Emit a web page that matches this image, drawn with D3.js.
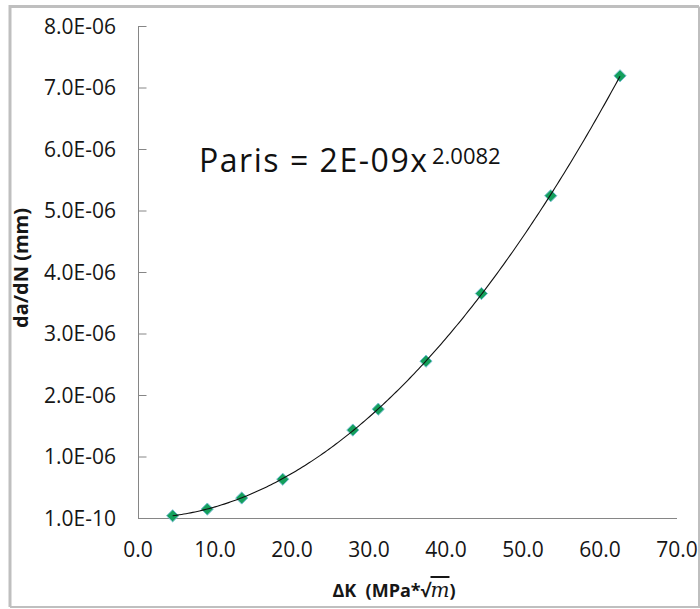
<!DOCTYPE html>
<html>
<head>
<meta charset="utf-8">
<script src="https://cdn.jsdelivr.net/npm/d3@7"></script>
<style>
  html, body { margin: 0; padding: 0; background: #fff; }
  svg { display: block; }
</style>
</head>
<body>
<svg id="chart" width="700" height="609"></svg>
<script>
// Crack growth rate vs stress intensity factor range
const deltaK = [4.5, 9.0, 13.47, 18.8, 27.9, 31.2, 37.4, 44.6, 53.6, 62.6];
const dadN   = [0.036e-6, 0.145e-6, 0.325e-6, 0.63e-6, 1.43e-6, 1.77e-6, 2.55e-6, 3.65e-6, 5.24e-6, 7.19e-6];

const yTickValues = [1e-10, 1e-6, 2e-6, 3e-6, 4e-6, 5e-6, 6e-6, 7e-6, 8e-6];
const yTickLabels = ["1.0E-10", "1.0E-06", "2.0E-06", "3.0E-06", "4.0E-06", "5.0E-06", "6.0E-06", "7.0E-06", "8.0E-06"];
const xTickValues = [0, 10, 20, 30, 40, 50, 60, 70];
const xTickLabels = ["0.0", "10.0", "20.0", "30.0", "40.0", "50.0", "60.0", "70.0"];

// Paris law exponent of the power trendline
const parisExponent = 2.0082;

const svg = d3.select("#chart");

// outer chart frame
svg.append("path")
  .attr("d", "M10,607 L10,6.5 L699,6.5")
  .attr("fill", "none").attr("stroke", "#bfbfbf").attr("stroke-width", 3);
svg.append("path")
  .attr("d", "M10,607 L699,607 L699,6.5")
  .attr("fill", "none").attr("stroke", "#bfbfbf").attr("stroke-width", 2);

const x = d3.scaleLinear().domain([0, 70]).range([138, 677]);
const y = d3.scaleLinear().domain([0, 8e-6]).range([518, 26]);

const axisColor = "#868686";
const labelFont = "'Open Sans', 'DejaVu Sans', sans-serif";
const textColor = "#161616";

// y axis: ticks drawn inward
const yAxis = svg.append("g")
  .attr("transform", "translate(138,0)")
  .call(d3.axisRight(y).tickValues(yTickValues).tickSize(8).tickFormat(""));
yAxis.select(".domain").attr("stroke", axisColor).attr("d", `M0.5,${y(8e-6)}V${y(0)}`);
yAxis.selectAll(".tick line").attr("stroke", axisColor).attr("transform", "translate(0.5,0)");

svg.append("g").selectAll("text")
  .data(yTickValues)
  .join("text")
  .attr("x", 116)
  .attr("y", d => y(d))
  .attr("dy", "0.36em")
  .attr("text-anchor", "end")
  .attr("font-family", labelFont)
  .attr("font-size", 21)
  .attr("font-weight", 500)
  .attr("fill", textColor)
  .text((d, i) => yTickLabels[i]);

// x axis: no tick marks
const xAxis = svg.append("g")
  .attr("transform", "translate(0,518)")
  .call(d3.axisBottom(x).tickValues(xTickValues).tickSize(0).tickFormat(""));
xAxis.select(".domain").attr("stroke", axisColor).attr("d", `M${x(0)},0.5H${x(70)}`);

svg.append("g").selectAll("text")
  .data(xTickValues)
  .join("text")
  .attr("x", d => x(d))
  .attr("y", 557)
  .attr("text-anchor", "middle")
  .attr("font-family", labelFont)
  .attr("font-size", 21)
  .attr("font-weight", 500)
  .attr("fill", textColor)
  .text((d, i) => xTickLabels[i]);

// axis titles
svg.append("text")
  .attr("transform", "translate(28,268) rotate(-90)")
  .attr("text-anchor", "middle")
  .attr("font-family", labelFont)
  .attr("font-weight", "bold")
  .attr("font-size", 20)
  .attr("fill", textColor)
  .text("da/dN (mm)");

const xTitle = svg.append("text")
  .attr("x", 394)
  .attr("y", 597)
  .attr("text-anchor", "middle")
  .attr("font-family", labelFont)
  .attr("font-weight", "bold")
  .attr("font-size", 18)
  .attr("fill", textColor)
  .attr("xml:space", "preserve");
xTitle.append("tspan").text("ΔK  (MPa*√");
xTitle.append("tspan")
  .attr("font-family", "'DejaVu Serif', serif")
  .attr("font-style", "italic")
  .attr("font-weight", "normal")
  .attr("font-size", 20)
  .style("text-decoration", "overline")
  .text("m");
xTitle.append("tspan").text(")");

// power trendline y = a·x^b, coefficient from least squares with the fixed exponent
const pw = deltaK.map(k => Math.pow(k, parisExponent));
const coef = d3.sum(dadN, (v, i) => v * pw[i]) / d3.sum(pw, p => p * p);
const kMin = d3.min(deltaK), kMax = d3.max(deltaK);
const trendPts = d3.range(0, 201).map(i => {
  const k = kMin + (kMax - kMin) * i / 200;
  return [k, coef * Math.pow(k, parisExponent)];
});

// data markers (diamonds)
svg.append("g").selectAll("path")
  .data(deltaK)
  .join("path")
  .attr("transform", (d, i) => `translate(${x(d)},${y(dadN[i])})`)
  .attr("d", d3.symbol().type(d3.symbolDiamond2).size(95))
  .attr("fill", "#14a05c")
  .attr("stroke", "#7dbfd6")
  .attr("stroke-width", 1);

svg.append("path")
  .datum(trendPts)
  .attr("fill", "none")
  .attr("stroke", "#111")
  .attr("stroke-width", 1.1)
  .attr("d", d3.line().x(d => x(d[0])).y(d => y(d[1])));

// trendline equation label
const coefLabel = d3.format(".0e")(coef).replace(/e([+-])(\d)$/, "e$10$2").toUpperCase();
svg.append("text")
  .attr("x", 199)
  .attr("y", 172)
  .attr("font-family", labelFont)
  .attr("font-size", 32)
  .attr("fill", "#111")
  .attr("textLength", 228)
  .attr("lengthAdjust", "spacing")
  .text(`Paris = ${coefLabel}x`);
svg.append("text")
  .attr("x", 432)
  .attr("y", 164)
  .attr("font-family", labelFont)
  .attr("font-size", 22)
  .attr("fill", "#111")
  .text(d3.format(".4f")(parisExponent));
</script>
</body>
</html>
